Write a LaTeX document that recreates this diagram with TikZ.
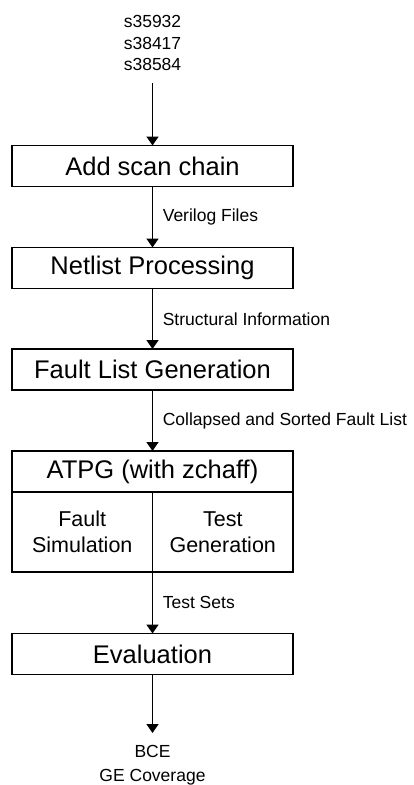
\documentclass[tikz,border=0pt]{standalone}
\usepackage{fontspec}
\setmainfont{Liberation Sans}
\usetikzlibrary{arrows.meta}
\begin{document}
\begin{tikzpicture}[x=1pt,y=-1pt,
  box/.style={draw, line width=1.1pt, inner sep=0pt, outer sep=0pt, minimum width=281pt, minimum height=41pt,
              font=\fontsize{25.5}{28}\selectfont},
  halfbox/.style={draw, line width=1.1pt, inner sep=0pt, outer sep=0pt, minimum width=140.5pt, minimum height=80pt,
              align=center, font=\fontsize{21.5}{26.5}\selectfont},
  flow/.style={line width=1.6pt, -{Triangle[width=12pt,length=9pt]}},
  lab/.style={inner sep=0pt, font=\fontsize{17.5}{21.5}\selectfont},
  side/.style={lab, anchor=west, xshift=9.5pt, midway}]
\useasboundingbox (0,0) rectangle (413,785);

% circuit inputs
\node[lab, align=center] (inputs) at (152.5,43) {s35932\\s38417\\s38584};
\coordinate (start) at (152.5,83);

% processing steps
\node[box] (scan) at (152.5,166) {Add scan chain};
\node[box] (netlist) at (152.5,268) {Netlist Processing};
\node[box] (faults) at (152.5,369.5) {Fault List Generation};
\node[box] (atpg) at (152.5,471.5) {ATPG (with zchaff)};
\node[halfbox, anchor=north east] (sim) at (atpg.south) {Fault\\Simulation};
\node[halfbox, anchor=north west] (gen) at (atpg.south) {Test\\Generation};
\node[box] (eval) at (152.5,654) {Evaluation};

% results
\coordinate (finish) at (152.5,733);
\node[lab, align=center, font=\fontsize{17.5}{24}\selectfont] (results) at (152.5,765) {BCE\\GE Coverage};

% data flow
\draw[flow] (start) -- (scan.north);
\draw[flow] (scan.south) -- node[side] {Verilog Files} (netlist.north);
\draw[flow] (netlist.south) -- node[side] {Structural Information} (faults.north);
\draw[flow] (faults.south) -- node[side] {Collapsed and Sorted Fault List} (atpg.north);
\draw[flow] (sim.south east) -- node[side] {Test Sets} (eval.north);
\draw[flow] (eval.south) -- (finish);
\end{tikzpicture}
\end{document}
